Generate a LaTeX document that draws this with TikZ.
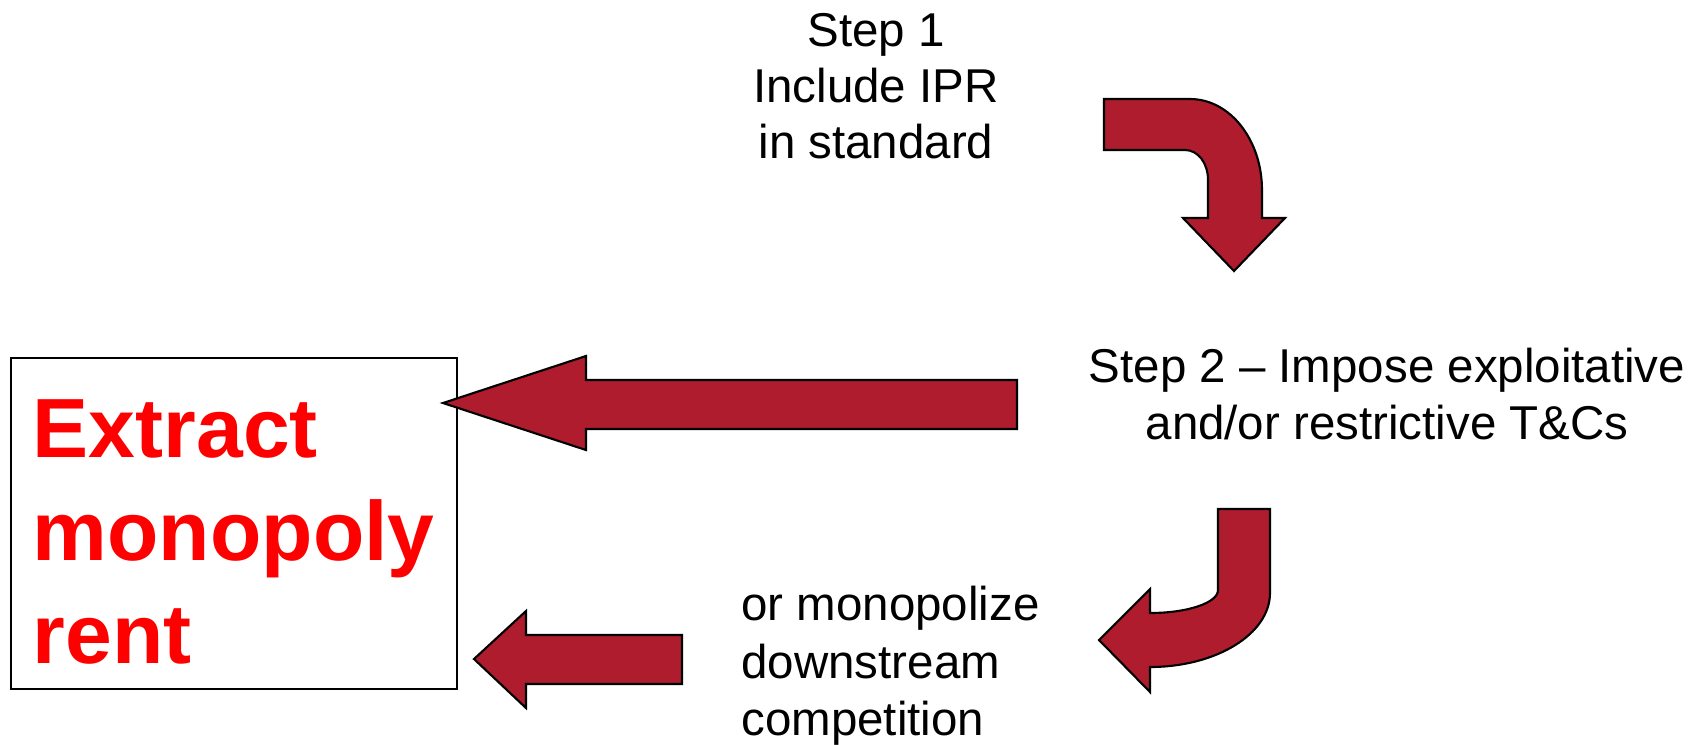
\documentclass[tikz,border=0pt]{standalone}
\usepackage{fontspec}
\setmainfont{Liberation Sans}
\definecolor{arrowred}{RGB}{174,28,46}
\definecolor{rentred}{RGB}{255,0,0}

\begin{document}
\begin{tikzpicture}[x=0.01cm, y=-0.01cm,
    steptext/.style={align=center, font=\fontsize{13.5}{16}\selectfont},
    blockarrow/.style={fill=arrowred, draw=black, line width=0.6pt, line join=miter}
]
    \useasboundingbox (0,0) rectangle (1702,744);

    % Step labels
    \node[steptext] (step_one) at (876,86) {Step 1\\Include IPR\\in standard};
    \node[steptext] (step_two) at (1387,394) {Step 2 -- Impose exploitative\\and/or restrictive T\&Cs};
    \node[steptext, align=left, anchor=west, font=\fontsize{13.5}{16.4}\selectfont] (downstream) at (729,666) {or monopolize\\downstream\\competition};

    % Result box
    \node[draw=black, line width=0.6pt, minimum width=4.46cm, minimum height=3.31cm,
        text width=4.02cm, inner xsep=0.22cm, align=left, text=rentred, text height=0.74cm,
        font=\fontsize{23.9}{29.3}\selectfont\bfseries] (rent_box) at (234,523.5)
        {Extract\\monopoly\\rent};

    % Bent arrow from step 1 down to step 2
    \draw[blockarrow] (1104,99) -- (1190,99) .. controls (1230,99) and (1262,140) .. (1262,190)
        -- (1262,218) -- (1285,218) -- (1234,271) -- (1183,218) -- (1208,218) -- (1208,180)
        .. controls (1208,163) and (1198,150) .. (1185,150) -- (1104,150) -- cycle;

    % Bent arrow from step 2 round to the downstream text
    \draw[blockarrow] (1218,509) -- (1270,509) -- (1270,593) .. controls (1270,634) and (1216,667) .. (1150,667)
        -- (1150,692) -- (1099,640) -- (1150,589) -- (1150,613)
        .. controls (1187,613) and (1218,603) .. (1218,590) -- cycle;

    % Straight arrows into the box
    \draw[blockarrow] (1017,380) -- (586,380) -- (586,356) -- (443,403) -- (586,450) -- (586,429) -- (1017,429) -- cycle;
    \draw[blockarrow] (682,635) -- (526,635) -- (526,611) -- (474,659) -- (526,708) -- (526,684) -- (682,684) -- cycle;
\end{tikzpicture}
\end{document}
